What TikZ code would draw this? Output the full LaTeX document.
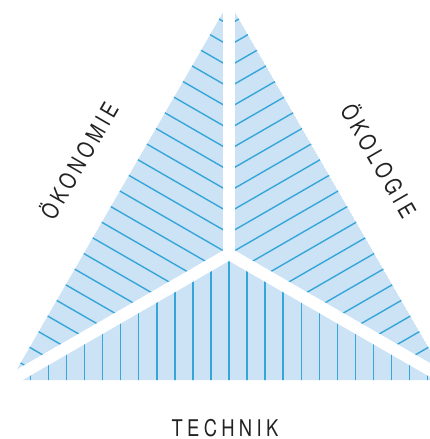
\documentclass[tikz,border=0pt]{standalone}
\usepackage{fontspec}
\newfontfamily\lblfont[FakeStretch=0.8,LetterSpace=19]{TeX Gyre Heros}
\definecolor{hatchfill}{HTML}{CBE3F5}
\definecolor{hatchline}{HTML}{36A6DA}
\definecolor{txt}{HTML}{222222}
\tikzset{
  partfill/.style={fill=hatchfill},
  hatch/.style={draw=hatchline,line width=1.4pt},
  gapline/.style={draw=white,line width=12pt},
  lbl/.style={text=txt,font=\lblfont\fontsize{23}{23}\selectfont,inner sep=0pt}
}
\begin{document}
\begin{tikzpicture}[x=1pt,y=-1pt]
\useasboundingbox (0,0) rectangle (430,439);
\begin{scope}
\clip (0,0) rectangle (430,439);
\coordinate (O) at (229,254);
\coordinate (A) at (229,-20);
\coordinate (L) at (-11.2,392.6);
\coordinate (R) at (469.2,392.6);
\foreach \ang in {0,120,240}{
  \begin{scope}[rotate around={\ang:(229,254)}]
    \begin{scope}
      \clip (229,254) -- (10.6,380) -- (447.4,380) -- cycle;
      \fill[partfill] (229,254) -- (10.6,380) -- (447.4,380) -- cycle;
      \foreach \i in {-12,...,12}{
        \draw[hatch] ({229+18.05*\i},240) -- ({229+18.05*\i},390);
      }
    \end{scope}
  \end{scope}
}
\draw[gapline] (O) -- (A);
\draw[gapline] (O) -- (L);
\draw[gapline] (O) -- (R);
\end{scope}
\node[lbl,rotate=60] (oekonomie) at (78,160) {ÖKONOMIE};
\node[lbl,rotate=-60] (oekologie) at (380,160) {ÖKOLOGIE};
\node[lbl,anchor=base] (technik) at (225,436.3) {TECHNIK};
\end{tikzpicture}
\end{document}
